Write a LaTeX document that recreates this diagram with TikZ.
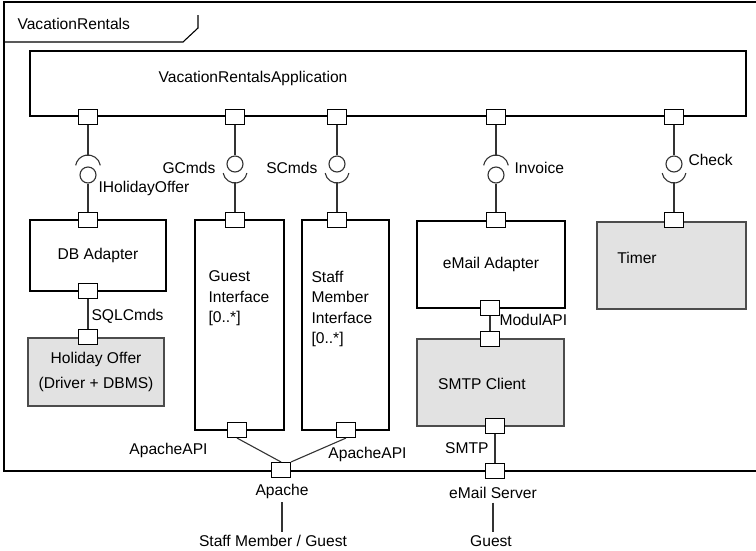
\documentclass[tikz,border=0pt]{standalone}
\usepackage{fontspec}
\setmainfont{Liberation Sans}
\definecolor{compgray}{HTML}{E2E2E2}
\tikzset{
  comp/.style={draw, inner sep=0pt},
  extcomp/.style={comp, fill=compgray, draw=black!70},
  port/.style={draw, fill=white, minimum width=19pt, minimum height=15pt, inner sep=0pt},
  ball/.style={draw=black!80, circle, minimum size=16pt, inner sep=0pt},
  wire/.style={draw=black!80},
}
\begin{document}
\begin{tikzpicture}[x=1pt, y=-1pt, line width=1.1pt, font=\fontsize{15.6}{20.5}\selectfont]
\useasboundingbox (0,0) rectangle (756,550);
% frame
\draw (760,2) -- (4,2) -- (4,471) -- (760,471);
\draw (4,42) -- (183,42) -- (198,28) -- (198,15);
\node[anchor=west, inner sep=0pt] (frameT) at (17,24) {VacationRentals};
% components
\node[comp, minimum width=716pt, minimum height=65pt] (app) at (388,83.5) {};
\node (appT) at (253,78.5) {VacationRentalsApplication};
\node[comp, minimum width=136pt, minimum height=71pt] (db) at (98,255.5) {DB Adapter};
\node[extcomp, minimum width=136pt, minimum height=68pt, align=center] (hol) at (96,372) {Holiday Offer\\[4.5pt](Driver + DBMS)};
\node[comp, minimum width=89pt, minimum height=210pt] (guest) at (239.5,325) {};
\node[anchor=north west, align=left, inner sep=0pt] (guestT) at (208,270.5) {Guest\\Interface\\{[0..*]}};
\node[comp, minimum width=87pt, minimum height=210pt] (staff) at (345.5,325) {};
\node[anchor=north west, align=left, inner sep=0pt] (staffT) at (311,270.5) {Staff\\Member\\Interface\\{[0..*]}};
\node[comp, minimum width=148pt, minimum height=87pt] (mailad) at (491,264.5) {eMail Adapter};
\node[extcomp, minimum width=147pt, minimum height=87pt] (smtp) at (490.5,382.5) {};
\node (smtpT) at (482,384) {SMTP Client};
\node[extcomp, minimum width=149pt, minimum height=87pt] (timer) at (671.5,265.5) {};
\node (timerT) at (637,258) {Timer};
% ports
\node[port] (pHo) at (88,117) {};
\node[port] (pGc) at (235,117) {};
\node[port] (pSc) at (337,117) {};
\node[port] (pIn) at (496,117) {};
\node[port] (pCh) at (674,117) {};
\node[port] (pDbT) at (88,220) {};
\node[port] (pDbB) at (88,291) {};
\node[port] (pHolT) at (88,337) {};
\node[port] (pGT) at (235,220) {};
\node[port] (pGB) at (237,430) {};
\node[port] (pST) at (337,220) {};
\node[port] (pSB) at (346,430) {};
\node[port] (pMT) at (496,220) {};
\node[port] (pMB) at (490,308) {};
\node[port] (pSmT) at (490,339) {};
\node[port] (pSmB) at (495,426) {};
\node[port] (pTiT) at (674,220) {};
\node[port] (pApache) at (281,470) {};
\node[port] (pMail) at (495,471) {};
% IHolidayOffer
\coordinate (sHo) at (88,167.5);
\node[ball] (bHo) at (88,175) {};
\draw[wire] (pHo.south) -- ([yshift=12.5pt]sHo);
\draw[wire] ([shift={(10:12.5pt)}]sHo) arc[start angle=10, end angle=170, radius=12.5pt];
\draw[wire] (bHo.south) -- (pDbT.north);
\node[anchor=west, inner sep=0pt] (lHo) at (98,188) {IHolidayOffer};
% GCmds
\node[ball] (bGc) at (235,164) {};
\coordinate (sGc) at (235,171);
\draw[wire] (pGc.south) -- (bGc.north);
\draw[wire] ([shift={(190:12pt)}]sGc) arc[start angle=190, end angle=350, radius=12pt];
\draw[wire] ([yshift=-12pt]sGc) -- (pGT.north);
\node[anchor=east, inner sep=0pt] (lGc) at (216,168) {GCmds};
% SCmds
\node[ball] (bSc) at (337,164) {};
\coordinate (sSc) at (337,171);
\draw[wire] (pSc.south) -- (bSc.north);
\draw[wire] ([shift={(190:12pt)}]sSc) arc[start angle=190, end angle=350, radius=12pt];
\draw[wire] ([yshift=-12pt]sSc) -- (pST.north);
\node[anchor=east, inner sep=0pt] (lSc) at (318,168) {SCmds};
% Invoice
\coordinate (sIn) at (496,167.5);
\node[ball] (bIn) at (496,175) {};
\draw[wire] (pIn.south) -- ([yshift=12.5pt]sIn);
\draw[wire] ([shift={(10:12.5pt)}]sIn) arc[start angle=10, end angle=170, radius=12.5pt];
\draw[wire] (bIn.south) -- (pMT.north);
\node[anchor=west, inner sep=0pt] (lIn) at (514,168) {Invoice};
% Check
\node[ball] (bCh) at (674,164) {};
\coordinate (sCh) at (674,171);
\draw[wire] (pCh.south) -- (bCh.north);
\draw[wire] ([shift={(190:12pt)}]sCh) arc[start angle=190, end angle=350, radius=12pt];
\draw[wire] ([yshift=-12pt]sCh) -- (pTiT.north);
\node[anchor=west, inner sep=0pt] (lCh) at (688,160) {Check};
% lower connectors
\draw[wire] (pDbB.south) -- (pHolT.north);
\node[anchor=west, inner sep=0pt] (lSql) at (91,316) {SQLCmds};
\draw[wire] (pMB.south) -- (pSmT.north);
\node[anchor=west, inner sep=0pt] (lMod) at (499,320) {ModulAPI};
\draw[wire] (pSmB.south) -- (pMail.north);
\node[anchor=east, inner sep=0pt] (lSmtp) at (489,448) {SMTP};
\draw[wire] (pGB.south) -- (pApache.north);
\draw[wire] (pSB.south) -- (pApache.north east);
\node (lApL) at (168.5,450) {ApacheAPI};
\node (lApR) at (367.5,454) {ApacheAPI};
% outside
\node (apacheT) at (282,491) {Apache};
\node[inner sep=2pt] (users) at (273,541) {Staff Member / Guest};
\draw[wire] (apacheT.south) -- ([yshift=1pt]apacheT.south |- users.north);
\node (mailT) at (493,493) {eMail Server};
\node (guestU) at (491,541) {Guest};
\draw[wire] (mailT.south) -- (mailT.south |- guestU.north);
\end{tikzpicture}
\end{document}
